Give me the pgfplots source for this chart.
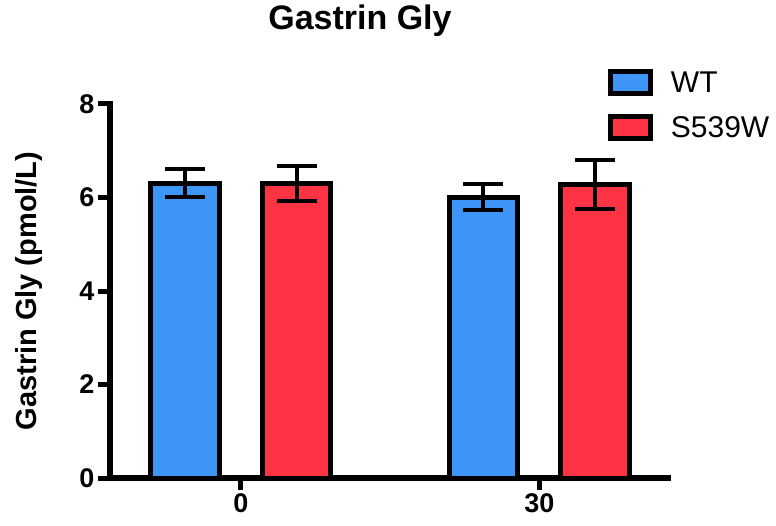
\documentclass[border=0pt]{standalone}
\usepackage{fontspec}
\setmainfont{Liberation Sans}
\usepackage{pgfplots}
\pgfplotsset{compat=1.18}
\definecolor{wtblue}{RGB}{61,150,245}
\definecolor{mutred}{RGB}{255,51,68}
\begin{document}
\begin{tikzpicture}
\begin{axis}[
 scale only axis,
 width=558pt, height=374pt,
 xmin=-0.438, xmax=1.431,
 ymin=0, ymax=8,
 axis lines=left,
 axis line style={-, line width=6pt, line cap=rect},
 xtick={0,1}, xticklabels={0,30},
 ytick={0,2,4,6,8},
 tick align=outside,
 major tick length=12pt,
 every tick/.style={black, line width=5pt},
 tick label style={font=\bfseries\fontsize{27}{27}\selectfont},
 /pgf/number format/assume math mode=true,
 ylabel={Gastrin Gly (pmol/L)},
 ylabel style={font=\bfseries\fontsize{29}{29}\selectfont, at={(axis description cs:-0.145,0.5)}, anchor=center},
 title={Gastrin Gly},
 title style={font=\bfseries\fontsize{34}{34}\selectfont, at={(axis description cs:0.448,1.184)}, anchor=base},
 ybar=0pt,
 bar width=0.229,
 clip=false,
 legend style={at={(axis description cs:0.892,1.094)}, anchor=north west, draw=none, fill=none, inner sep=0pt, font=\fontsize{30}{30}\selectfont, row sep=18pt, legend cell align=left, /tikz/every odd column/.append style={column sep=16pt}},
 legend image code/.code={\draw[#1, line width=5pt] (0pt,-11pt) rectangle (40pt,11pt);},
 error bars/y dir=both,
 error bars/y explicit,
 error bars/error bar style={black, line width=4pt},
 error bars/error mark options={black, rotate=90, mark size=20pt, line width=4pt},
]
\addplot+[draw=black, fill=wtblue, line width=5pt, bar shift=-0.187] coordinates {(0,6.30) +- (0,0.30) (1,6.01) +- (0,0.28)};
\addplot+[draw=black, fill=mutred, line width=5pt, bar shift=0.187] coordinates {(0,6.30) +- (0,0.37) (1,6.28) +- (0,0.53)};
\legend{WT,S539W}
\coordinate (sw) at (rel axis cs:0,0);
\end{axis}
\pgfresetboundingbox
\path ([shift={(-110pt,-47pt)}]sw) rectangle ++(776pt,525pt);
\end{tikzpicture}
\end{document}
